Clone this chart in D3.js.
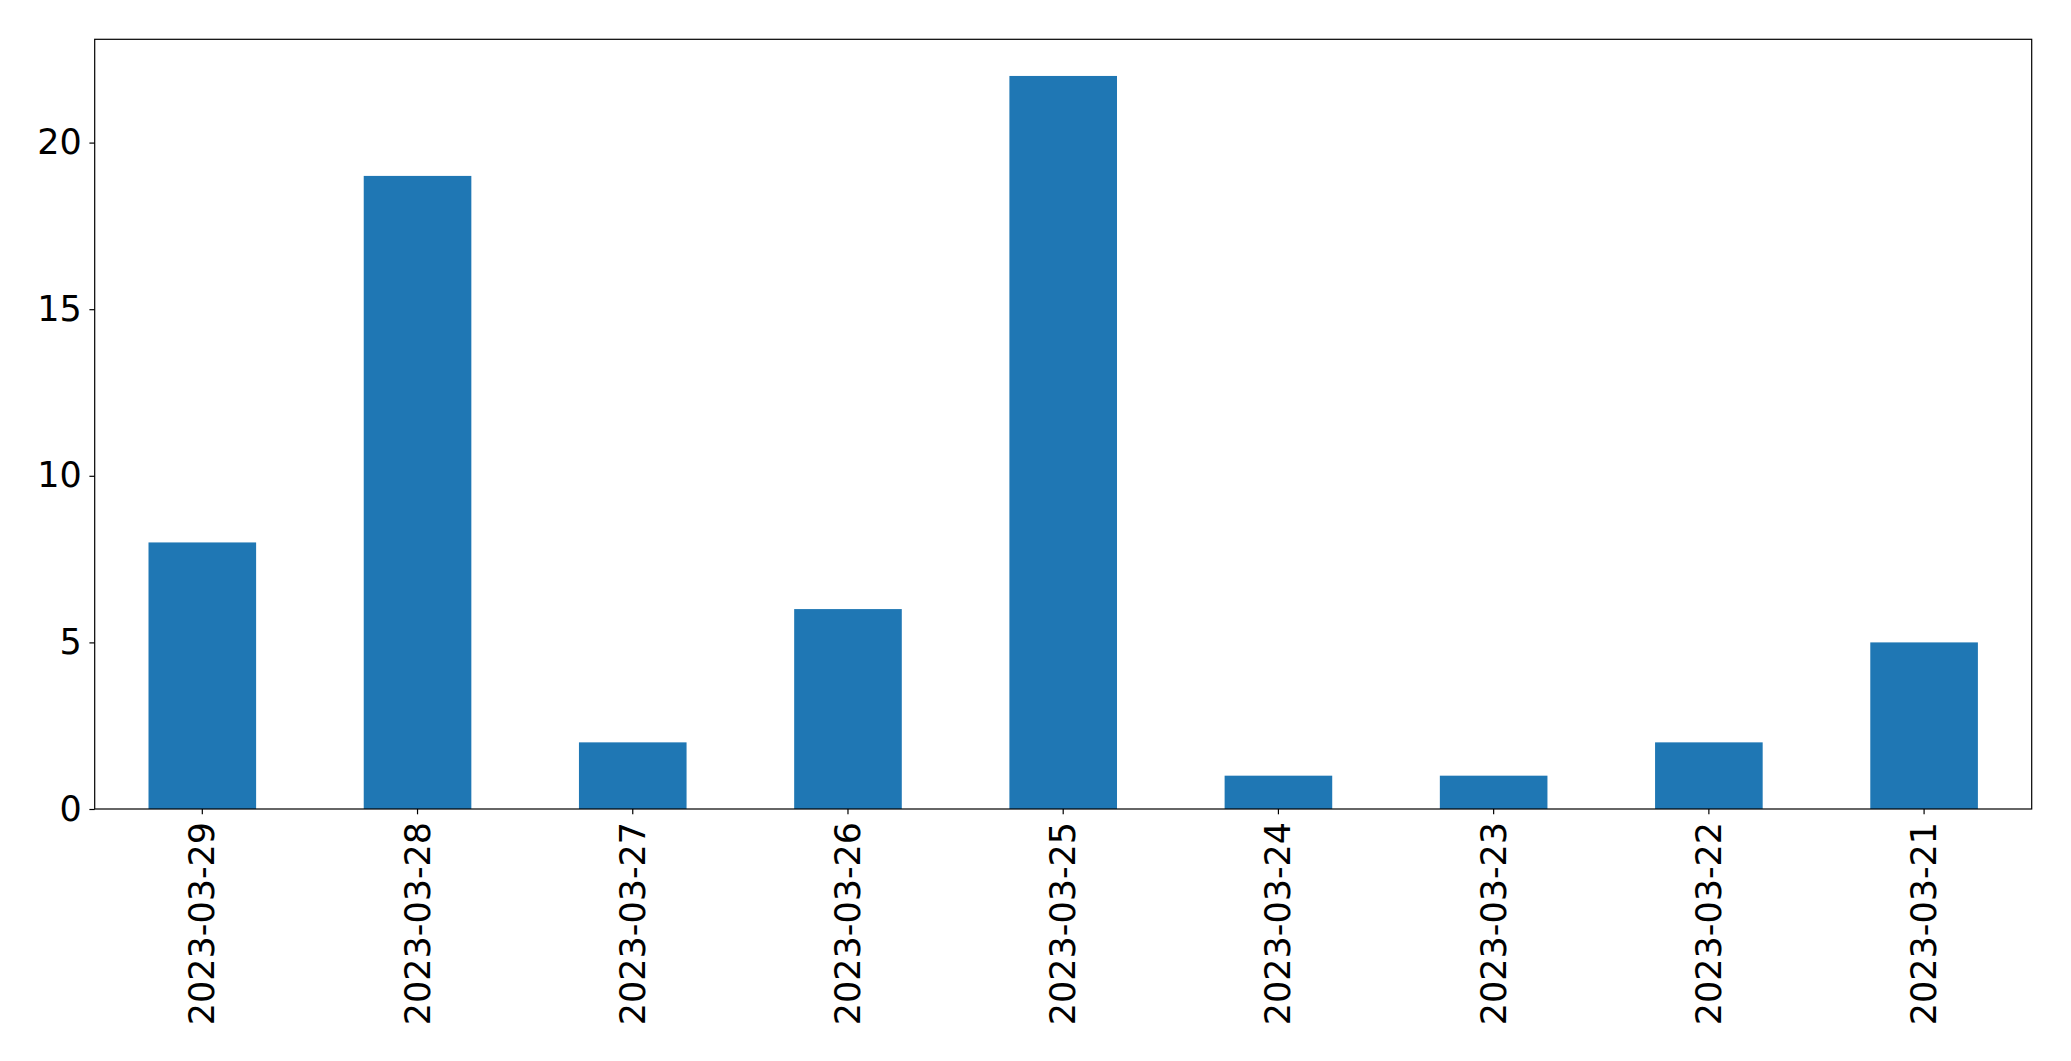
<!DOCTYPE html>
<html>
<head>
<meta charset="utf-8">
<script src="https://cdn.jsdelivr.net/npm/d3@7"></script>
<style>
html,body{margin:0;padding:0;background:#fff;}
svg{display:block;}
</style>
</head>
<body>
<script>
const categories = ["2023-03-29","2023-03-28","2023-03-27","2023-03-26","2023-03-25","2023-03-24","2023-03-23","2023-03-22","2023-03-21"];
const values = [8,19,2,6,22,1,1,2,5];
const yTicks = [0,5,10,15,20];

const W = 2071, H = 1061;
const m = {left:94.7, right:2071-2031.7, top:39.3, bottom:1061-809};
const iw = W - m.left - m.right, ih = H - m.top - m.bottom;
const fontSize = 35;
const font = "'DejaVu Sans', sans-serif";

const svg = d3.select("body").append("svg").attr("width", W).attr("height", H);
const g = svg.append("g").attr("transform", `translate(${m.left},${m.top})`);

const x = d3.scaleBand().domain(categories).range([0, iw]).paddingInner(0.5).paddingOuter(0.25);
const y = d3.scaleLinear().domain([0, d3.max(values) * 1.05]).range([ih, 0]);

g.selectAll("rect.bar").data(values).join("rect")
  .attr("class","bar")
  .attr("x", (d,i) => x(categories[i]))
  .attr("width", x.bandwidth())
  .attr("y", d => y(d))
  .attr("height", d => y(0) - y(d))
  .attr("fill", "#1f77b4");

// y axis
const yAxis = g.append("g").call(d3.axisLeft(y).tickValues(yTicks).tickSize(5.3).tickPadding(7.6).tickFormat(d3.format("d")));
yAxis.select(".domain").remove();
yAxis.selectAll("line").attr("stroke","#000").attr("stroke-width",1.2);
yAxis.selectAll("text").attr("font-family", font).attr("font-size", fontSize).attr("fill","#000");

// x axis
const xAxis = g.append("g").attr("transform", `translate(0,${ih})`)
  .call(d3.axisBottom(x).tickSize(5.3).tickPadding(7.6));
xAxis.select(".domain").remove();
xAxis.selectAll("line").attr("stroke","#000").attr("stroke-width",1.2);
xAxis.selectAll("text")
  .attr("font-family", font).attr("font-size", fontSize).attr("fill","#000")
  .attr("text-anchor","end")
  .attr("dy", null)
  .attr("y", 0)
  .attr("x", 0)
  .attr("dominant-baseline","central")
  .attr("transform", "translate(0,12.9) rotate(-90)");

// frame
g.append("rect").attr("x",0).attr("y",0).attr("width",iw).attr("height",ih)
  .attr("fill","none").attr("stroke","#000").attr("stroke-width",1.2);
</script>
</body>
</html>
